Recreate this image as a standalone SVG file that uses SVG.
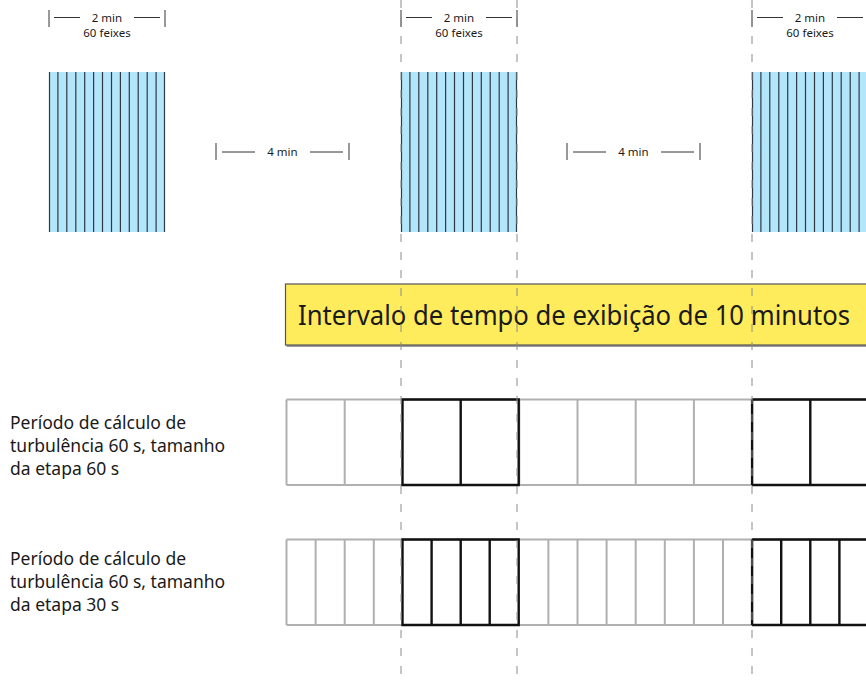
<svg xmlns="http://www.w3.org/2000/svg" width="866" height="681" viewBox="0 0 866 681">
<style>
.txt{font-family:"Noto Sans","Open Sans","Liberation Sans",sans-serif;fill:#1a1a1a}
.sm{font-size:11.5px;text-anchor:middle}
.lbl{font-size:17.5px}
.title{font-size:28px}
.brk{stroke:#333;stroke-width:1;fill:none}
.beam{fill:#b3e5fb;stroke:none}
.stripe{stroke:#2e3a44;stroke-width:1.2}
.g{fill:none;stroke:#b0b0b0;stroke-width:2}
.k{fill:none;stroke:#111;stroke-width:2.4}
.dash{stroke:#8a8a8a;stroke-width:1;stroke-dasharray:8 10;fill:none}
</style>
<defs>
<g id="stripes">
<rect class="beam" x="0" y="72" width="116" height="160"/>
<path class="stripe" d="M0.5,72V232M8.9,72V232M17.8,72V232M26.8,72V232M35.7,72V232M44.6,72V232M53.5,72V232M62.5,72V232M71.4,72V232M80.3,72V232M89.2,72V232M98.2,72V232M107.1,72V232M115.5,72V232"/>
</g>
</defs>
<rect width="866" height="681" fill="#fff"/>

<g id="beam1"><use href="#stripes" x="49"/></g>
<g id="beam2"><use href="#stripes" x="401"/></g>
<g id="beam3"><use href="#stripes" x="752"/></g>

<g id="bracket1">
<path class="brk" d="M49,10V27M165,10V27M54,17.5H80M134,17.5H160"/>
<text class="txt sm" x="107" y="21.5">2 min</text>
<text class="txt sm" x="107" y="37">60 feixes</text>
</g>
<g id="bracket2">
<path class="brk" d="M401,10V27M517,10V27M406,17.5H432M486,17.5H512"/>
<text class="txt sm" x="459" y="21.5">2 min</text>
<text class="txt sm" x="459" y="37">60 feixes</text>
</g>
<g id="bracket3">
<path class="brk" d="M752,10V27M868,10V27M757,17.5H783M837,17.5H863"/>
<text class="txt sm" x="810" y="21.5">2 min</text>
<text class="txt sm" x="810" y="37">60 feixes</text>
</g>
<g id="gap1">
<path class="brk" d="M216,143V160M349,143V160M222,152H255M310,152H343"/>
<text class="txt sm" x="282.5" y="156">4 min</text>
</g>
<g id="gap2">
<path class="brk" d="M567,143V160M700,143V160M573,152H606M661,152H694"/>
<text class="txt sm" x="633.5" y="156">4 min</text>
</g>

<g id="window">
<rect x="286.5" y="286" width="600" height="61" fill="#9a9a9a"/>
<rect x="285.5" y="284" width="600" height="61" fill="#ffec5c" stroke="#555" stroke-width="1.2"/>
<text class="txt title" x="298" y="325" textLength="552" lengthAdjust="spacingAndGlyphs">Intervalo de tempo de exibição de 10 minutos</text>
</g>

<g id="label1">
<text class="txt lbl" x="10" y="429">Período de cálculo de</text>
<text class="txt lbl" x="10" y="452">turbulência 60 s, tamanho</text>
<text class="txt lbl" x="10" y="475">da etapa 60 s</text>
</g>
<g id="label2">
<text class="txt lbl" x="10" y="565">Período de cálculo de</text>
<text class="txt lbl" x="10" y="588">turbulência 60 s, tamanho</text>
<text class="txt lbl" x="10" y="611">da etapa 30 s</text>
</g>

<g id="row1">
<path class="g" d="M286.5,399.5H870M286.5,485H870M286.5,399.5V485M344.7,399.5V485M519.3,399.5V485M577.5,399.5V485M635.7,399.5V485M693.9,399.5V485"/>
<path class="k" d="M402.5,399.5H518.7V485H402.5ZM460.7,399.5V485M752.1,399.5H870M752.1,485H870M752.1,399.5V485M810.3,399.5V485"/>
</g>
<g id="row2">
<path class="g" d="M286.5,539.5H870M286.5,625H870M286.5,539.5V625M315.6,539.5V625M344.7,539.5V625M373.8,539.5V625M548.4,539.5V625M577.5,539.5V625M606.6,539.5V625M635.7,539.5V625M664.8,539.5V625M693.9,539.5V625M723,539.5V625"/>
<path class="k" d="M402.5,539.5H518.7V625H402.5ZM431.6,539.5V625M460.7,539.5V625M489.7,539.5V625M752.1,539.5H870M752.1,625H870M752.1,539.5V625M781.2,539.5V625M810.3,539.5V625M839.4,539.5V625"/>
</g>

<g id="connectors">
<path class="dash" d="M401,0V681M517,0V681M752,0V681"/>
</g>
</svg>
